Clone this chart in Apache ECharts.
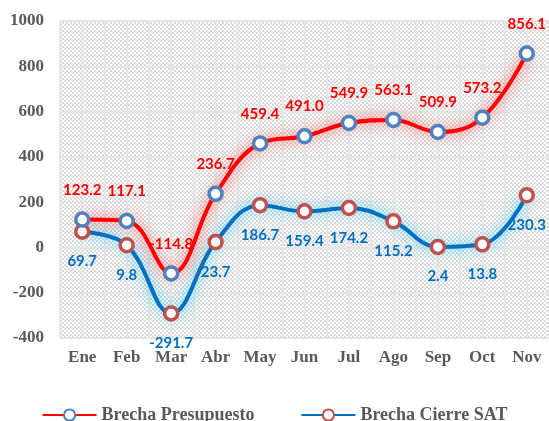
<!DOCTYPE html>
<html>
<head>
<meta charset="utf-8">
<script src="https://cdn.jsdelivr.net/npm/echarts@6/dist/echarts.min.js"></script>
<style>
  html, body { margin: 0; padding: 0; background: #fff; }
  #main { width: 549px; height: 421px; }
</style>
</head>
<body>
<div id="main"></div>
<script>
var months = ['Ene', 'Feb', 'Mar', 'Abr', 'May', 'Jun', 'Jul', 'Ago', 'Sep', 'Oct', 'Nov'];
var presupuesto = [123.2, 117.1, -114.8, 236.7, 459.4, 491.0, 549.9, 563.1, 509.9, 573.2, 856.1];
var cierreSat = [69.7, 9.8, -291.7, 23.7, 186.7, 159.4, 174.2, 115.2, 2.4, 13.8, 230.3];
var yTicks = { min: -400, max: 1000, step: 200 };

// hatched fill for the plot area
function makeHatch() {
    var c = document.createElement('canvas');
    c.width = 8; c.height = 8;
    var ctx = c.getContext('2d');
    ctx.fillStyle = '#ffffff';
    ctx.fillRect(0, 0, 8, 8);
    ctx.fillStyle = '#dadada';
    ctx.fillRect(0, 0, 2, 2);
    ctx.fillRect(2, 2, 2, 2);
    ctx.fillRect(4, 4, 2, 2);
    ctx.fillRect(6, 6, 2, 2);
    ctx.fillRect(4, 0, 2, 2);
    ctx.fillRect(6, 2, 2, 2);
    ctx.fillRect(0, 4, 2, 2);
    ctx.fillRect(2, 6, 2, 2);
    return c;
}

var serif = '"Liberation Serif", "Times New Roman", serif';
var axisFont = { fontFamily: serif, fontWeight: 'bold', fontSize: 17, color: '#595959' };

var myChart = echarts.init(document.getElementById('main'));
var option = {
    animation: false,
    grid: {
        left: 60, right: -3, top: 21, bottom: 83,
        show: true,
        backgroundColor: { image: makeHatch(), repeat: 'repeat' },
        borderColor: '#e0e0e0', borderWidth: 1
    },
    legend: {
        bottom: -8,
        left: 'center',
        itemWidth: 54,
        itemHeight: 14,
        itemGap: 46,
        textStyle: { fontFamily: serif, fontWeight: 'bold', fontSize: 18, color: '#595959' },
        data: ['Brecha Presupuesto', 'Brecha Cierre SAT']
    },
    xAxis: [{
        type: 'category',
        data: months,
        boundaryGap: true,
        axisLine: { show: false },
        axisTick: { show: false },
        axisLabel: Object.assign({ margin: 11, interval: 0 }, axisFont),
        splitLine: { show: false }
    }, {
        type: 'value',
        min: 0, max: months.length, interval: 0.5,
        position: 'bottom',
        axisLine: { show: false },
        axisTick: { show: false },
        axisLabel: { show: false },
        splitLine: { show: true, lineStyle: { color: '#e3e3e3', width: 1.5 } }
    }],
    yAxis: {
        type: 'value',
        min: yTicks.min, max: yTicks.max, interval: yTicks.step,
        axisLine: { show: false },
        axisTick: { show: false },
        axisLabel: Object.assign({ margin: 16, formatter: function (v) { return String(v); } }, axisFont),
        splitLine: { show: true, lineStyle: { color: '#e3e3e3', width: 1.5 } }
    },
    series: [{
        name: 'Brecha Presupuesto',
        type: 'line',
        data: presupuesto,
        smooth: 0.4,
        symbol: 'circle',
        symbolSize: 13,
        z: 3,
        itemStyle: { color: '#ffffff', borderColor: '#4F81BD', borderWidth: 3.5 },
        lineStyle: { color: '#FF0000', width: 4, shadowColor: 'rgba(255,30,30,0.85)', shadowBlur: 14 },
        label: {
            show: true, position: 'top', distance: 14,
            color: '#FF0000', fontFamily: 'Lato, "Open Sans", sans-serif', fontWeight: 'bold', fontSize: 15,
            formatter: function (p) { return p.value.toFixed(1); }
        }
    }, {
        name: 'Brecha Cierre SAT',
        type: 'line',
        data: cierreSat,
        smooth: 0.4,
        symbol: 'circle',
        symbolSize: 13,
        z: 2,
        itemStyle: { color: '#ffffff', borderColor: '#C0504D', borderWidth: 3.5 },
        lineStyle: { color: '#0070C0', width: 4, shadowColor: 'rgba(0,190,240,0.9)', shadowBlur: 14 },
        label: {
            show: true, position: 'bottom', distance: 14,
            color: '#0070C0', fontFamily: 'Lato, "Open Sans", sans-serif', fontWeight: 'bold', fontSize: 15,
            formatter: function (p) { return p.value.toFixed(1); }
        }
    }]
};
myChart.setOption(option);
</script>
</body>
</html>
